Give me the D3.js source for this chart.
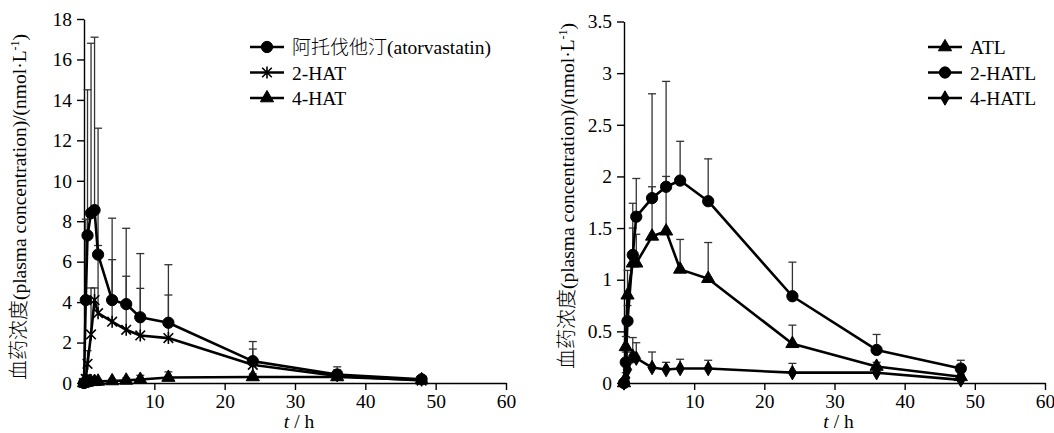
<!DOCTYPE html>
<html>
<head>
<meta charset="utf-8">
<script src="https://cdn.jsdelivr.net/npm/d3@7"></script>
<style>
  body { margin: 0; background: #fff; }
  svg text { font-family: "Liberation Serif", serif; fill: #000; }
  svg .cjk { font-family: "Noto Sans CJK SC", sans-serif; font-weight: 300; }
  svg .lat { font-family: "Liberation Serif", serif; }
</style>
</head>
<body>
<svg id="chart" width="1054" height="433"></svg>
<script>
// left panel: atorvastatin and hydroxy metabolites
const timeLeft = [0, 0.25, 0.5, 1, 1.5, 2, 4, 6, 8, 12, 24, 36, 48];
const atorMean = [0, 4.1, 7.3, 8.4, 8.55, 6.35, 4.1, 3.9, 3.25, 2.98, 1.08, 0.42, 0.18];
const atorSd   = [0, 4.0, 7.2, 8.4, 8.55, 6.25, 4.05, 3.75, 3.15, 2.87, 0.97, 0.38, 0.12];
const hat2Mean = [0, 0.2, 0.95, 2.4, 4.1, 3.45, 3.03, 2.63, 2.35, 2.22, 0.9, 0.35, 0.12];
const hat2Sd   = [0, 0.2, 0.65, 2.3, 0.6, 3.35, 3.07, 2.65, 2.33, 2.13, 0.78, 0.3, 0.13];
const hat4Mean = [0, 0.02, 0.04, 0.06, 0.07, 0.08, 0.1, 0.13, 0.17, 0.27, 0.3, 0.3, 0.15];
const hat4Sd   = [0, 0.03, 0.04, 0.04, 0.05, 0.06, 0.08, 0.12, 0.21, 0.28, 0.15, 0.12, 0.1];

// right panel: lactone forms
const timeRight = [0, 0.25, 0.5, 1.25, 1.75, 4, 6, 8, 12, 24, 36, 48];
const atlMean   = [0, 0.35, 0.85, 1.16, 1.16, 1.42, 1.47, 1.1, 1.01, 0.38, 0.16, 0.06];
const atlSd     = [0, 0.1, 0.24, 0.34, 0.28, 0.48, 1.45, 0.29, 0.35, 0.18, 0.04, 0.04];
const hatl2Mean = [0, 0.2, 0.6, 1.24, 1.61, 1.79, 1.9, 1.96, 1.76, 0.84, 0.32, 0.14];
const hatl2Sd   = [0, 0.1, 0.15, 0.5, 0.37, 1.01, 0.1, 0.38, 0.41, 0.33, 0.15, 0.08];
const hatl4Mean = [0, 0.05, 0.13, 0.26, 0.24, 0.15, 0.13, 0.14, 0.14, 0.10, 0.10, 0.03];
const hatl4Sd   = [0, 0.05, 0.17, 0.18, 0.15, 0.15, 0.07, 0.09, 0.08, 0.09, 0.06, 0.05];

const xTicks = [10, 20, 30, 40, 50, 60];
const yTicksLeft = [0, 2, 4, 6, 8, 10, 12, 14, 16, 18];
const yTicksRight = [0, 0.5, 1, 1.5, 2, 2.5, 3, 3.5];

const svg = d3.select("#chart");

// custom asterisk marker: X plus vertical bar
const asterisk = {
  draw(ctx, size) {
    const r = Math.sqrt(size) * 0.6;
    const d = r * 0.8;
    ctx.moveTo(0, -r); ctx.lineTo(0, r);
    ctx.moveTo(-d, -d); ctx.lineTo(d, d);
    ctx.moveTo(-d, d); ctx.lineTo(d, -d);
  }
};

const markers = {
  circle:   { type: d3.symbolCircle,   size: 100, fill: true },
  triangle: { type: d3.symbolTriangle, size: 75, fill: true },
  diamond:  { type: d3.symbolDiamond,  size: 60, fill: true },
  star:     { type: asterisk,          size: 100, fill: false }
};

function drawMarker(g, kind, x, y) {
  const m = markers[kind];
  g.append("path")
    .attr("transform", `translate(${x},${y})`)
    .attr("d", d3.symbol().type(m.type).size(m.size)())
    .attr("fill", m.fill ? "#000" : "none")
    .attr("stroke", "#000")
    .attr("stroke-width", m.fill ? 1 : 1.6);
}

function panel(opts) {
  const x = d3.scaleLinear().domain([0, 60]).range(opts.xRange);
  const y = d3.scaleLinear().domain(opts.yDomain).range(opts.yRange);
  const g = svg.append("g");

  // axes
  const xAxis = g.append("g")
    .attr("transform", `translate(0,${opts.yRange[0]})`)
    .call(d3.axisBottom(x).tickValues(xTicks).tickSize(7).tickPadding(4).tickSizeOuter(0));
  const yAxis = g.append("g")
    .attr("transform", `translate(${opts.xRange[0]},0)`)
    .call(d3.axisLeft(y).tickValues(opts.yTicks).tickSize(7).tickPadding(5).tickSizeOuter(0)
      .tickFormat(d => String(d)));
  [xAxis, yAxis].forEach(a => {
    a.select(".domain").attr("stroke", "#000").attr("stroke-width", 1.4);
    a.selectAll(".tick line").attr("stroke", "#000").attr("stroke-width", 1.4);
    a.selectAll(".tick text").attr("font-size", 19.5)
      .attr("font-family", "Liberation Serif");
  });

  // error bars (upper only)
  opts.series.forEach(s => {
    s.mean.forEach((m, i) => {
      if (s.sd[i] <= 0) return;
      const px = x(opts.time[i]);
      const top = y(m + s.sd[i]);
      g.append("line").attr("x1", px).attr("x2", px)
        .attr("y1", y(m)).attr("y2", top)
        .attr("stroke", "#333").attr("stroke-width", 1.3);
      g.append("line").attr("x1", px - 4).attr("x2", px + 4)
        .attr("y1", top).attr("y2", top)
        .attr("stroke", "#333").attr("stroke-width", 1.3);
    });
  });

  // lines
  const line = d3.line().x(d => x(d[0])).y(d => y(d[1]));
  opts.series.forEach(s => {
    g.append("path")
      .datum(opts.time.map((t, i) => [t, s.mean[i]]))
      .attr("d", line)
      .attr("fill", "none")
      .attr("stroke", "#000")
      .attr("stroke-width", 2.6)
      .attr("stroke-linejoin", "round");
  });

  // markers
  opts.series.forEach(s => {
    opts.time.forEach((t, i) => drawMarker(g, s.marker, x(t), y(s.mean[i])));
  });

  // legend
  opts.series.forEach((s, i) => {
    const ly = opts.legend[1] + i * 25.5;
    const lx = opts.legend[0];
    g.append("line").attr("x1", lx).attr("x2", lx + 34).attr("y1", ly).attr("y2", ly)
      .attr("stroke", "#000").attr("stroke-width", 2.6);
    drawMarker(g, s.marker, lx + 17, ly);
    const t = g.append("text").attr("x", lx + 42).attr("y", ly + 7)
      .attr("font-size", 19.5);
    if (s.cn) t.append("tspan").attr("class", "cjk").attr("font-size", 19).text(s.cn);
    t.append("tspan").attr("class", "lat").text(s.name);
  });

  // axis titles
  const xt = g.append("text")
    .attr("x", (opts.xRange[0] + opts.xRange[1]) / 2 + 4)
    .attr("y", 428)
    .attr("text-anchor", "middle")
    .attr("font-size", 19.5);
  xt.append("tspan").attr("font-style", "italic").text("t");
  xt.append("tspan").text(" / h");

  const yt = g.append("text")
    .attr("transform", `translate(${opts.yTitle[0]},${opts.yTitle[1]}) rotate(-90)`)
    .attr("text-anchor", "middle")
    .attr("font-size", 19.5);
  yt.append("tspan").attr("class", "cjk").attr("font-size", 20).text("血药浓度");
  yt.append("tspan").attr("class", "lat").text("(plasma concentration)/(nmol·L");
  yt.append("tspan").attr("class", "lat").attr("font-size", 12).attr("dy", -7).text("-1");
  yt.append("tspan").attr("class", "lat").attr("dy", 7).text(")");
}

panel({
  xRange: [84, 506], yRange: [383, 19], yDomain: [0, 18], yTicks: yTicksLeft,
  time: timeLeft,
  series: [
    { cn: "阿托伐他汀", name: "(atorvastatin)", mean: atorMean, sd: atorSd, marker: "circle" },
    { name: "2-HAT", mean: hat2Mean, sd: hat2Sd, marker: "star" },
    { name: "4-HAT", mean: hat4Mean, sd: hat4Sd, marker: "triangle" }
  ],
  legend: [250, 47],
  yTitle: [26, 207]
});

panel({
  xRange: [624, 1045], yRange: [383, 21.5], yDomain: [0, 3.5], yTicks: yTicksRight,
  time: timeRight,
  series: [
    { name: "ATL", mean: atlMean, sd: atlSd, marker: "triangle" },
    { name: "2-HATL", mean: hatl2Mean, sd: hatl2Sd, marker: "circle" },
    { name: "4-HATL", mean: hatl4Mean, sd: hatl4Sd, marker: "diamond" }
  ],
  legend: [928, 47],
  yTitle: [574, 196]
});
</script>
</body>
</html>
